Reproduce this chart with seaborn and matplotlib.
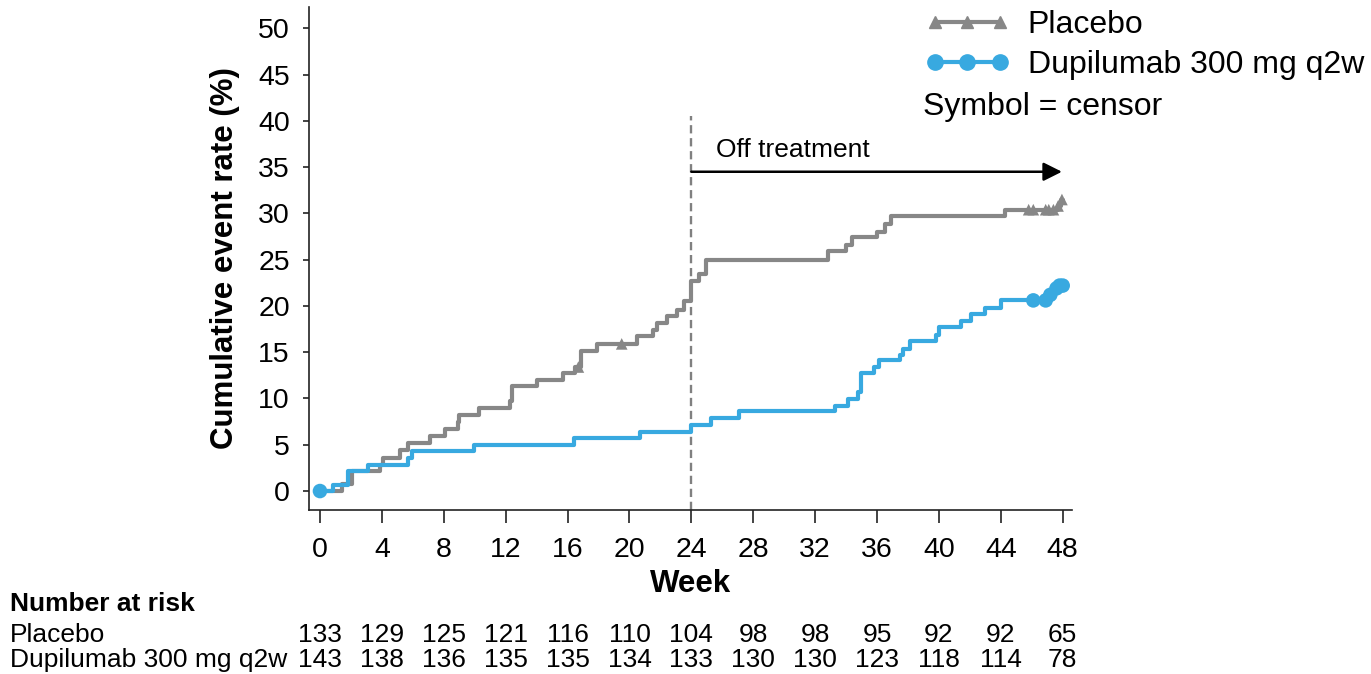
import numpy as np
import pandas as pd
import matplotlib
matplotlib.use("Agg")
import matplotlib.pyplot as plt
import seaborn as sns
from matplotlib.lines import Line2D
from matplotlib import transforms

# ---------------- data ----------------
group_names = ["Placebo", "Dupilumab 300 mg q2w"]

placebo_weeks = [0, 1.4, 2.1, 3.9, 4.1, 5.2, 5.7, 7.1, 8.1, 8.9, 9.0, 10.3, 12.26, 12.4,
                 14.0, 15.7, 16.5, 16.9, 17.9, 20.5, 21.5, 21.8, 22.4, 23.1, 23.5, 24.0,
                 24.5, 24.95, 32.8, 34.0, 34.4, 36.0, 36.5, 36.9, 44.3, 47.7, 47.9, 48.0]
placebo_rate = [0, 0.8, 2.2, 2.8, 3.6, 4.4, 5.2, 6.0, 6.7, 7.5, 8.2, 9.0, 9.7, 11.3,
                12.0, 12.8, 13.4, 15.1, 15.9, 16.7, 17.4, 18.2, 18.9, 19.6, 20.5, 22.7,
                23.5, 25.0, 25.9, 26.6, 27.4, 28.0, 28.9, 29.7, 30.4, 30.8, 31.5, 31.5]

dupi_weeks = [0, 0.86, 1.8, 3.1, 5.7, 5.95, 9.96, 16.4, 20.7, 24.0, 25.3, 27.1, 33.3,
              34.1, 34.8, 34.95, 35.8, 36.1, 37.5, 37.7, 38.1, 39.8, 40.0, 41.4, 42.1,
              43.0, 44.0, 47.2, 47.5, 47.7, 48.0]
dupi_rate = [0, 0.7, 2.2, 2.8, 3.6, 4.3, 5.0, 5.7, 6.4, 7.1, 7.9, 8.6, 9.2,
             9.9, 10.7, 12.8, 13.4, 14.2, 14.7, 15.4, 16.2, 16.9, 17.7, 18.4, 19.1,
             19.8, 20.6, 21.2, 21.9, 22.2, 22.2]

placebo_censor_weeks = [16.7, 19.5, 45.8, 46.1, 46.9, 47.1, 47.4, 47.7, 47.95]
placebo_censor_rate = [13.4, 15.9, 30.4, 30.4, 30.4, 30.4, 30.4, 30.8, 31.5]
dupi_censor_weeks = [0, 46.1, 46.9, 47.2, 47.6, 47.8, 48.0]
dupi_censor_rate = [0, 20.6, 20.6, 21.2, 21.9, 22.2, 22.2]

risk_weeks = [0, 4, 8, 12, 16, 20, 24, 28, 32, 36, 40, 44, 48]
placebo_risk = [133, 129, 125, 121, 116, 110, 104, 98, 98, 95, 92, 92, 65]
dupi_risk = [143, 138, 136, 135, 135, 134, 133, 130, 130, 123, 118, 114, 78]

x_ticks = list(range(0, 49, 4))
y_ticks = list(range(0, 51, 5))

# ---------------- style ----------------
sns.set_style("ticks")
plt.rcParams["font.family"] = ["Liberation Sans", "DejaVu Sans"]
plt.rcParams["text.color"] = "black"
plt.rcParams["axes.labelcolor"] = "black"
plt.rcParams["xtick.color"] = "black"
plt.rcParams["ytick.color"] = "black"

gray = "#878787"
blue = "#38A9E0"
palette = {group_names[0]: gray, group_names[1]: blue}

curves = pd.DataFrame({
    "week": placebo_weeks + dupi_weeks,
    "rate": placebo_rate + dupi_rate,
    "group": [group_names[0]] * len(placebo_weeks) + [group_names[1]] * len(dupi_weeks),
})
cens_p = pd.DataFrame({"week": placebo_censor_weeks, "rate": placebo_censor_rate})
cens_d = pd.DataFrame({"week": dupi_censor_weeks, "rate": dupi_censor_rate})

fig = plt.figure(figsize=(13.71, 6.74), dpi=100)
ax = fig.add_axes([0.2256, 0.2433, 0.5563, 0.7463])

sns.lineplot(data=curves, x="week", y="rate", hue="group", palette=palette,
             drawstyle="steps-post", estimator=None, sort=False, lw=3,
             legend=False, ax=ax)
sns.scatterplot(data=cens_p, x="week", y="rate", marker="^", s=70, color=gray,
                edgecolor="none", legend=False, ax=ax, zorder=3)
sns.scatterplot(data=cens_d, x="week", y="rate", marker="o", s=110, color=blue,
                edgecolor="none", legend=False, ax=ax, zorder=3)

# off-treatment marker
ax.plot([24, 24], [-2.05, 40.5], color="#808080", lw=1.7, dashes=(3.5, 2), zorder=1)
ax.annotate("", xy=(47.95, 34.5), xytext=(24, 34.5),
            arrowprops=dict(arrowstyle="-|>", color="black", lw=1.8,
                            mutation_scale=28, shrinkA=0, shrinkB=0))
ax.text(25.6, 36.1, "Off treatment", fontsize=19, va="baseline", ha="left")

ax.set_xlim(-0.69, 48.6)
ax.set_ylim(-2.05, 52.3)
ax.set_xticks(x_ticks)
ax.set_yticks(y_ticks)
ax.tick_params(axis="x", labelsize=20.5, length=9.5, width=1.2, pad=10, color="#222222")
ax.tick_params(axis="y", labelsize=20.5, length=4, width=1.2, pad=10, color="#222222")
for s in ["top", "right"]:
    ax.spines[s].set_visible(False)
for s in ["left", "bottom"]:
    ax.spines[s].set_linewidth(1.2)
    ax.spines[s].set_color("#222222")

ax.set_xlabel("Week", fontsize=22.5, fontweight="bold", labelpad=4)
ax.set_ylabel("Cumulative event rate (%)", fontsize=22.5, fontweight="bold", labelpad=13)

# legend
handles = [
    Line2D([], [], color=gray, lw=3, marker="^", markersize=9),
    Line2D([], [], color=blue, lw=3, marker="o", markersize=11),
]
fig.legend(handles, group_names, loc="upper left",
           bbox_to_anchor=(925 / 1371, 1 - 10 / 674), frameon=False, fontsize=23,
           handlelength=2.66, handletextpad=0.56, labelspacing=0.32,
           borderpad=0, borderaxespad=0, numpoints=3)
fig.text(923 / 1371, 1 - 107 / 674, "Symbol = censor", fontsize=23, va="center", ha="left")

# number at risk table
trans = transforms.blended_transform_factory(ax.transData, fig.transFigure)
fs_tab = 19
fig.text(10 / 1371, 1 - 604 / 674, "Number at risk", fontsize=fs_tab, fontweight="bold",
         va="center", ha="left")
fig.text(10 / 1371, 1 - 635 / 674, group_names[0], fontsize=fs_tab, va="center", ha="left")
fig.text(10 / 1371, 1 - 660 / 674, group_names[1], fontsize=fs_tab, va="center", ha="left")
for w, p, d in zip(risk_weeks, placebo_risk, dupi_risk):
    ax.text(w, 1 - 635 / 674, str(p), transform=trans, fontsize=fs_tab, ha="center",
            va="center", clip_on=False)
    ax.text(w, 1 - 660 / 674, str(d), transform=trans, fontsize=fs_tab, ha="center",
            va="center", clip_on=False)

fig.savefig("out.png", dpi=100)
